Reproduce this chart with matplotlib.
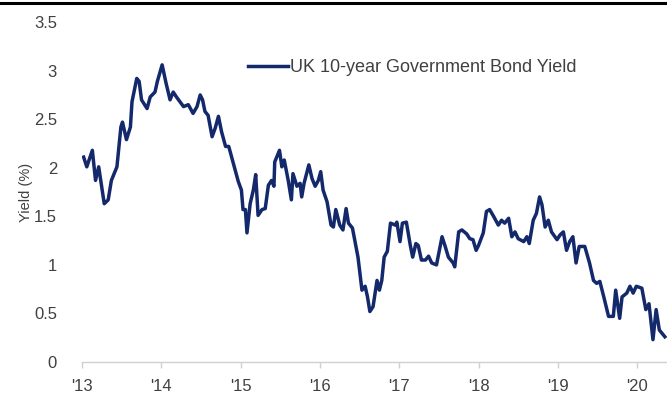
import matplotlib.pyplot as plt
from matplotlib.lines import Line2D

plt.rcParams['font.family'] = ['Liberation Sans', 'DejaVu Sans']

# decimal year, yield (%)
years = [2013.02, 2013.06, 2013.13, 2013.17, 2013.21, 2013.28, 2013.33, 2013.37, 2013.44, 2013.49,
         2013.51, 2013.56, 2013.61, 2013.63, 2013.69, 2013.72, 2013.75, 2013.82, 2013.86, 2013.92,
         2013.95, 2014.01, 2014.06, 2014.11, 2014.15, 2014.19, 2014.28, 2014.34, 2014.40, 2014.45,
         2014.49, 2014.52, 2014.55, 2014.59, 2014.64, 2014.68, 2014.72, 2014.76, 2014.81, 2014.85,
         2014.92, 2014.97, 2015.01, 2015.03, 2015.06, 2015.08, 2015.12, 2015.16, 2015.19, 2015.22,
         2015.27, 2015.31, 2015.35, 2015.39, 2015.42, 2015.43, 2015.49, 2015.52, 2015.55, 2015.60,
         2015.64, 2015.66, 2015.71, 2015.75, 2015.77, 2015.80, 2015.86, 2015.90, 2015.94, 2015.98,
         2016.01, 2016.04, 2016.09, 2016.14, 2016.17, 2016.20, 2016.25, 2016.29, 2016.33, 2016.36,
         2016.41, 2016.48, 2016.53, 2016.57, 2016.60, 2016.63, 2016.67, 2016.72, 2016.75, 2016.78,
         2016.81, 2016.85, 2016.89, 2016.95, 2016.97, 2017.01, 2017.04, 2017.09, 2017.14, 2017.17,
         2017.21, 2017.24, 2017.28, 2017.33, 2017.37, 2017.41, 2017.47, 2017.54, 2017.58, 2017.62,
         2017.68, 2017.70, 2017.75, 2017.79, 2017.85, 2017.89, 2017.93, 2017.97, 2018.00, 2018.06,
         2018.10, 2018.14, 2018.19, 2018.25, 2018.29, 2018.33, 2018.38, 2018.42, 2018.46, 2018.50,
         2018.57, 2018.61, 2018.64, 2018.69, 2018.73, 2018.77, 2018.80, 2018.84, 2018.88, 2018.92,
         2018.99, 2019.03, 2019.07, 2019.11, 2019.15, 2019.19, 2019.23, 2019.27, 2019.34, 2019.40,
         2019.45, 2019.49, 2019.53, 2019.58, 2019.64, 2019.70, 2019.73, 2019.78, 2019.81, 2019.87,
         2019.91, 2019.95, 2019.99, 2020.06, 2020.11, 2020.15, 2020.20, 2020.24, 2020.28, 2020.35]
yields = [2.11, 2.01, 2.18, 1.87, 2.01, 1.63, 1.67, 1.87, 2.01, 2.42,
          2.47, 2.29, 2.42, 2.68, 2.92, 2.89, 2.70, 2.61, 2.73, 2.78,
          2.89, 3.06, 2.87, 2.70, 2.78, 2.73, 2.63, 2.65, 2.56, 2.63,
          2.75, 2.70, 2.58, 2.54, 2.32, 2.41, 2.53, 2.37, 2.22, 2.22,
          2.01, 1.86, 1.77, 1.57, 1.57, 1.33, 1.63, 1.77, 1.93, 1.51,
          1.57, 1.58, 1.82, 1.87, 1.81, 2.06, 2.18, 2.01, 2.08, 1.87,
          1.67, 1.94, 1.81, 1.84, 1.70, 1.84, 2.03, 1.89, 1.81, 1.87,
          1.96, 1.77, 1.65, 1.41, 1.39, 1.57, 1.41, 1.36, 1.58, 1.43,
          1.38, 1.08, 0.74, 0.78, 0.67, 0.52, 0.57, 0.84, 0.74, 0.84,
          1.08, 1.14, 1.43, 1.41, 1.44, 1.24, 1.43, 1.44, 1.20, 1.08,
          1.22, 1.20, 1.05, 1.05, 1.09, 1.02, 1.00, 1.29, 1.19, 1.08,
          1.02, 0.98, 1.34, 1.36, 1.32, 1.27, 1.26, 1.15, 1.20, 1.33,
          1.55, 1.57, 1.50, 1.41, 1.46, 1.43, 1.48, 1.29, 1.34, 1.27,
          1.24, 1.29, 1.22, 1.46, 1.53, 1.70, 1.62, 1.39, 1.46, 1.34,
          1.26, 1.31, 1.34, 1.15, 1.24, 1.29, 1.02, 1.19, 1.19, 1.02,
          0.84, 0.81, 0.83, 0.67, 0.47, 0.47, 0.74, 0.45, 0.67, 0.71,
          0.78, 0.71, 0.78, 0.76, 0.54, 0.60, 0.23, 0.54, 0.33, 0.26]

tick_years = [2013, 2014, 2015, 2016, 2017, 2018, 2019, 2020]
tick_labels = ["'13", "'14", "'15", "'16", "'17", "'18", "'19", "'20"]
y_ticks = [0, 0.5, 1, 1.5, 2, 2.5, 3, 3.5]
y_labels = ['0', '0.5', '1', '1.5', '2', '2.5', '3', '3.5']

text_col = '#404040'
line_col = '#13296b'

fig = plt.figure(figsize=(6.67, 3.95), dpi=100)
ax = fig.add_axes([0.123, 0.0835, 0.877, 0.8605])

ax.plot(years, yields, color=line_col, lw=2.5, label='UK 10-year Government Bond Yield')

ax.set_xlim(2013.0, 2020.377)
ax.set_ylim(0, 3.5)
ax.set_xticks(tick_years)
ax.set_xticklabels(tick_labels)
ax.set_yticks(y_ticks)
ax.set_yticklabels(y_labels)

for s in ['top', 'right', 'left']:
    ax.spines[s].set_visible(False)
ax.spines['bottom'].set_color('#d0d0d0')
ax.spines['bottom'].set_linewidth(1.0)
ax.tick_params(axis='x', colors='#d0d0d0', length=4, width=1, direction='out', pad=8,
               labelcolor=text_col, labelsize=12)
ax.tick_params(axis='y', length=0, pad=18, labelcolor=text_col, labelsize=12)
ax.set_ylabel('Yield (%)', color=text_col, fontsize=10.5, labelpad=1)

leg = ax.legend(loc='center', bbox_to_anchor=(0.618, 0.828), bbox_transform=fig.transFigure,
                frameon=False, fontsize=13, handlelength=2.2, handletextpad=0.12)
for t in leg.get_texts():
    t.set_color(text_col)

# dark rule across the top of the image
fig.add_artist(Line2D([0, 1], [0.992, 0.992], transform=fig.transFigure, color='black', lw=2.2))

fig.savefig('out.png', dpi=100)
